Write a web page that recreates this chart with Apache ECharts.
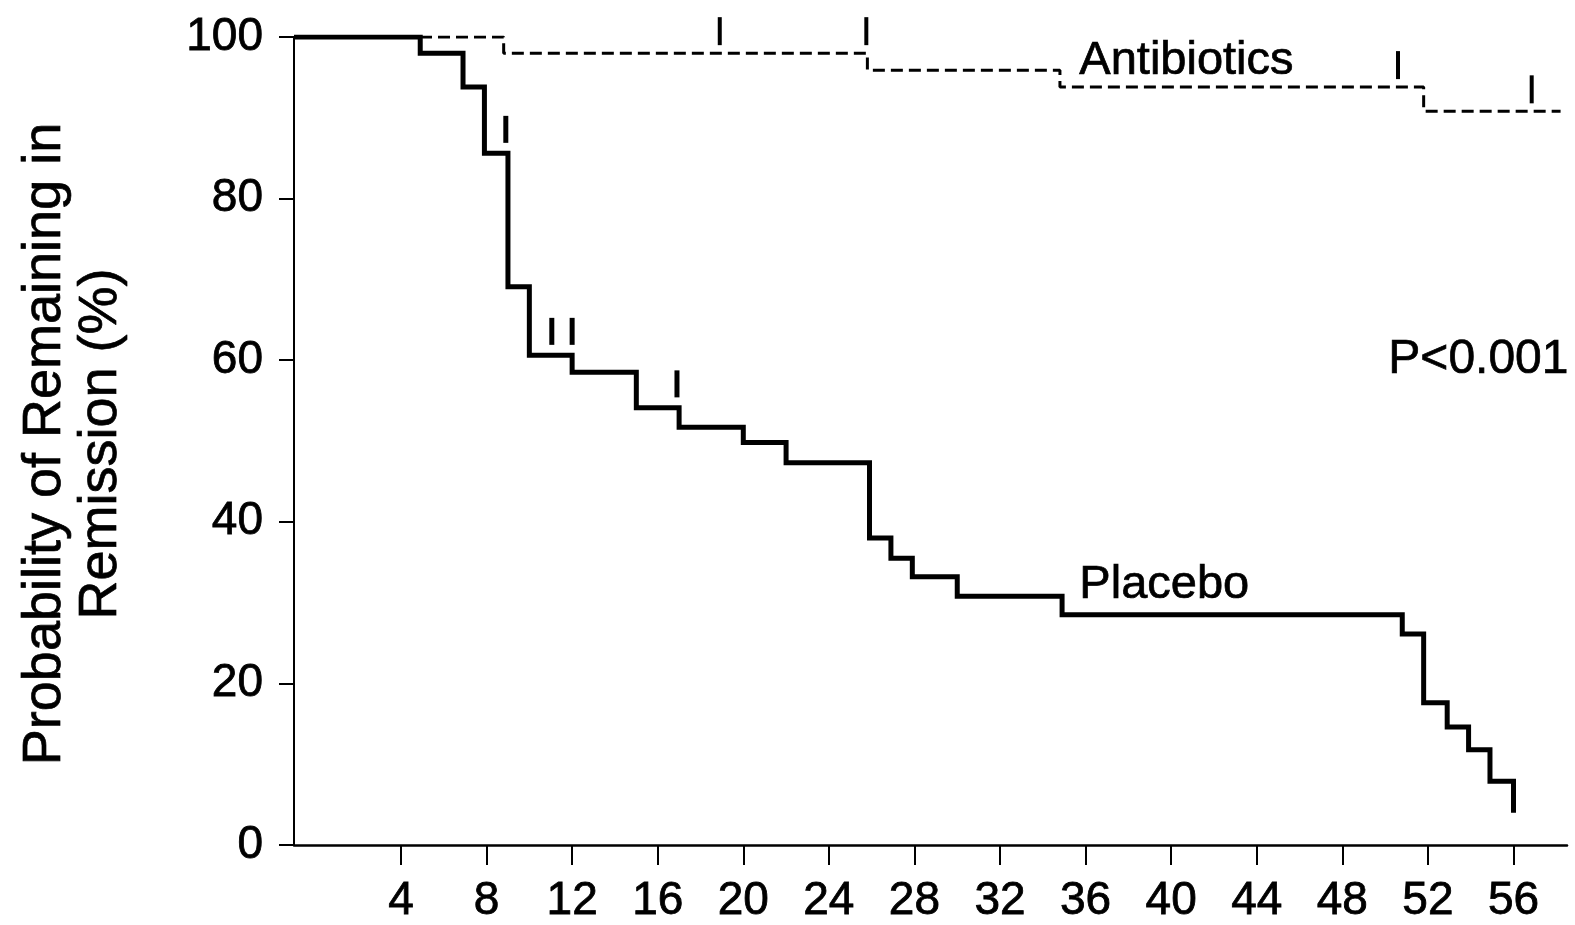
<!DOCTYPE html>
<html>
<head>
<meta charset="utf-8">
<script src="https://cdn.jsdelivr.net/npm/echarts@6/dist/echarts.min.js"></script>
<style>
  html, body { margin: 0; padding: 0; background: #ffffff; }
  #chart { width: 1575px; height: 925px; }
</style>
</head>
<body>
<div id="chart"></div>
<script>
// ---- data ----
const xTickValues = [4, 8, 12, 16, 20, 24, 28, 32, 36, 40, 44, 48, 52, 56];

// Kaplan-Meier steps: [time, probability after the step]
const placeboTimes  = [-1, 4.9, 6.9, 7.9, 9.0, 10.0, 12.0, 15.0, 17.0, 20.0, 22.0, 25.9, 26.9, 27.9, 30.0, 34.9, 50.8, 51.8, 52.9, 53.9, 54.9, 56.0];
const placeboValues = [100, 98.0, 93.8, 85.6, 69.1, 60.6, 58.5, 54.1, 51.7, 49.8, 47.3, 38.0, 35.5, 33.2, 30.8, 28.5, 26.1, 17.6, 14.6, 11.8, 7.9, 4.0];

const antibioticTimes  = [-1, 8.8, 25.8, 34.8, 51.8, 58.2];
const antibioticValues = [100, 98.0, 95.9, 93.8, 90.8, 90.8];

// censor marks: [time, curve level]
const placeboCensorTimes  = [8.9, 11.05, 12.0, 16.9];
const placeboCensorLevels = [85.6, 60.6, 60.6, 54.1];
const antibioticCensorTimes  = [18.9, 25.75, 50.6, 56.85];
const antibioticCensorLevels = [98.0, 98.0, 93.8, 90.8];

const labels = {
  antibiotics: 'Antibiotics',
  placebo: 'Placebo',
  pvalue: 'P<0.001',
  yTitle: 'Probability of Remaining in\nRemission (%)'
};

const zip = (a, b) => a.map((v, i) => [v, b[i]]);
const FONT = '"Liberation Sans", Arial, Helvetica, sans-serif';

const chart = echarts.init(document.getElementById('chart'), null, { renderer: 'canvas' });
chart.setOption({
  backgroundColor: '#ffffff',
  animation: false,
  grid: { left: 294, right: 8, top: 37, bottom: 80, containLabel: false },
  xAxis: {
    type: 'value',
    min: -1,
    max: 58.5,
    splitLine: { show: false },
    axisLine: { show: true, onZero: false, lineStyle: { color: '#000', width: 2.5 } },
    axisTick: { show: true, length: 20, customValues: xTickValues, lineStyle: { color: '#000', width: 2 } },
    axisLabel: { show: true, customValues: xTickValues, margin: 33, color: '#000', fontSize: 46, fontFamily: FONT,
                 textBorderColor: '#000', textBorderWidth: 0.8 }
  },
  yAxis: {
    type: 'value',
    min: 0,
    max: 100,
    interval: 20,
    splitLine: { show: false },
    axisLine: { show: true, onZero: false, lineStyle: { color: '#000', width: 2 } },
    axisTick: { show: true, length: 15, lineStyle: { color: '#000', width: 2 } },
    axisLabel: { show: true, margin: 31, color: '#000', fontSize: 46, fontFamily: FONT,
                 textBorderColor: '#000', textBorderWidth: 0.8 }
  },
  series: [
    {
      type: 'line',
      name: 'Antibiotics',
      step: 'end',
      symbol: 'none',
      data: zip(antibioticTimes, antibioticValues),
      lineStyle: { color: '#000', width: 3, type: [12, 6] },
      z: 3
    },
    {
      type: 'line',
      name: 'Placebo',
      step: 'end',
      symbol: 'none',
      data: zip(placeboTimes, placeboValues),
      lineStyle: { color: '#000', width: 5, join: 'miter', cap: 'butt' },
      z: 4
    },
    {
      type: 'scatter',
      name: 'Placebo censored',
      symbol: 'rect',
      symbolSize: [5, 27],
      symbolOffset: [0, -24],
      itemStyle: { color: '#000', opacity: 1 },
      data: zip(placeboCensorTimes, placeboCensorLevels),
      z: 5
    },
    {
      type: 'scatter',
      name: 'Antibiotics censored',
      symbol: 'rect',
      symbolSize: [4, 28],
      symbolOffset: [0, -22],
      itemStyle: { color: '#000', opacity: 1 },
      data: zip(antibioticCensorTimes, antibioticCensorLevels),
      z: 5
    }
  ],
  graphic: [
    {
      type: 'text', left: 1079, top: 37,
      style: { text: labels.antibiotics, fill: '#000', font: '47px ' + FONT, stroke: '#000', lineWidth: 0.7 }
    },
    {
      type: 'text', left: 1079, top: 561,
      style: { text: labels.placebo, fill: '#000', font: '47px ' + FONT, stroke: '#000', lineWidth: 0.7 }
    },
    {
      type: 'text', left: 1388, top: 335,
      style: { text: labels.pvalue, fill: '#000', font: '48px ' + FONT, stroke: '#000', lineWidth: 0.7 }
    },
    {
      type: 'text',
      x: 73, y: 444,
      rotation: Math.PI / 2,
      style: {
        text: labels.yTitle, fill: '#000', font: '54px ' + FONT,
        align: 'center', verticalAlign: 'middle', lineHeight: 56,
        stroke: '#000', lineWidth: 0.7
      }
    }
  ]
});
</script>
</body>
</html>
